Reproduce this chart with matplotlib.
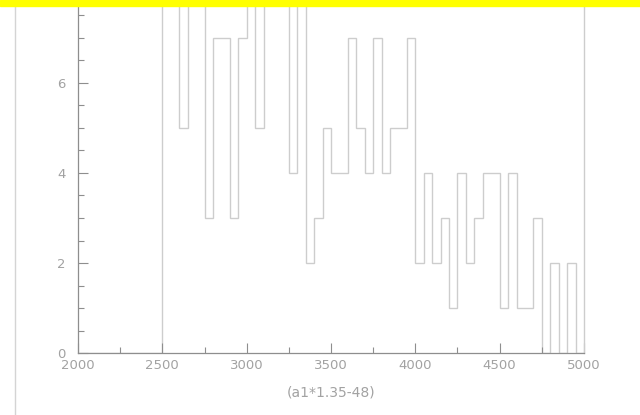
import numpy as np
import matplotlib
matplotlib.use("Agg")
import matplotlib.pyplot as plt
from matplotlib.lines import Line2D
from matplotlib.patches import Rectangle
from matplotlib.ticker import MultipleLocator

# histogram of (a1*1.35-48), 50-wide bins from 2000 to 5000
bin_start = 2000
bin_width = 50
counts = [0, 0, 0, 0, 0, 0, 0, 0, 0, 0,
          8, 9, 5, 8, 9, 3, 7, 7, 3, 7,
          8, 5, 9, 8, 10, 4, 8, 2, 3, 5,
          4, 4, 7, 5, 4, 7, 4, 5, 5, 7,
          2, 4, 2, 3, 1, 4, 2, 3, 4, 4,
          1, 4, 1, 1, 3, 0, 2, 0, 2, 0]
x_ticks = [2000, 2500, 3000, 3500, 4000, 4500, 5000]
y_ticks = [0, 2, 4, 6]
x_label = "(a1*1.35-48)"

edges = bin_start + bin_width * np.arange(len(counts) + 1)

line_col = "#cdcdcd"
axis_col = "#8e8e8e"
text_col = "#a2a2a2"

fig = plt.figure(figsize=(6.4, 4.15), dpi=100)
ax = fig.add_axes([78 / 640, 62 / 415, (584 - 78) / 640, 353 / 415])

ax.stairs(counts, edges, color=line_col, lw=1.0)

ax.set_xlim(2000, 5000)
ax.set_ylim(0, 353 / 45)
ax.set_xticks(x_ticks)
ax.set_yticks(y_ticks)
ax.xaxis.set_minor_locator(MultipleLocator(250))
ax.yaxis.set_minor_locator(MultipleLocator(0.5))
ax.tick_params(which="both", direction="in", color=axis_col, width=0.8,
               labelcolor=text_col, labelsize=9.5)
ax.tick_params(which="major", length=7)
ax.tick_params(which="minor", length=4)
ax.tick_params(axis="y", pad=9)
ax.tick_params(axis="x", pad=4)

for side in ["left", "bottom"]:
    ax.spines[side].set_color(axis_col)
    ax.spines[side].set_linewidth(0.9)
ax.spines["right"].set_color(line_col)
ax.spines["right"].set_linewidth(1.0)
ax.spines["top"].set_visible(False)

ax.set_xlabel(x_label, color=text_col, fontsize=10, labelpad=10)

# outer frame line on the left and yellow band on top
fig.add_artist(Line2D([15 / 640, 15 / 640], [0, 1], color="#d4d4d4", lw=1.0))
fig.add_artist(Rectangle((0, 1 - 6 / 415), 1, 6 / 415, color="#ffff00",
                         transform=fig.transFigure, zorder=10))

fig.savefig("out.png", dpi=100)
